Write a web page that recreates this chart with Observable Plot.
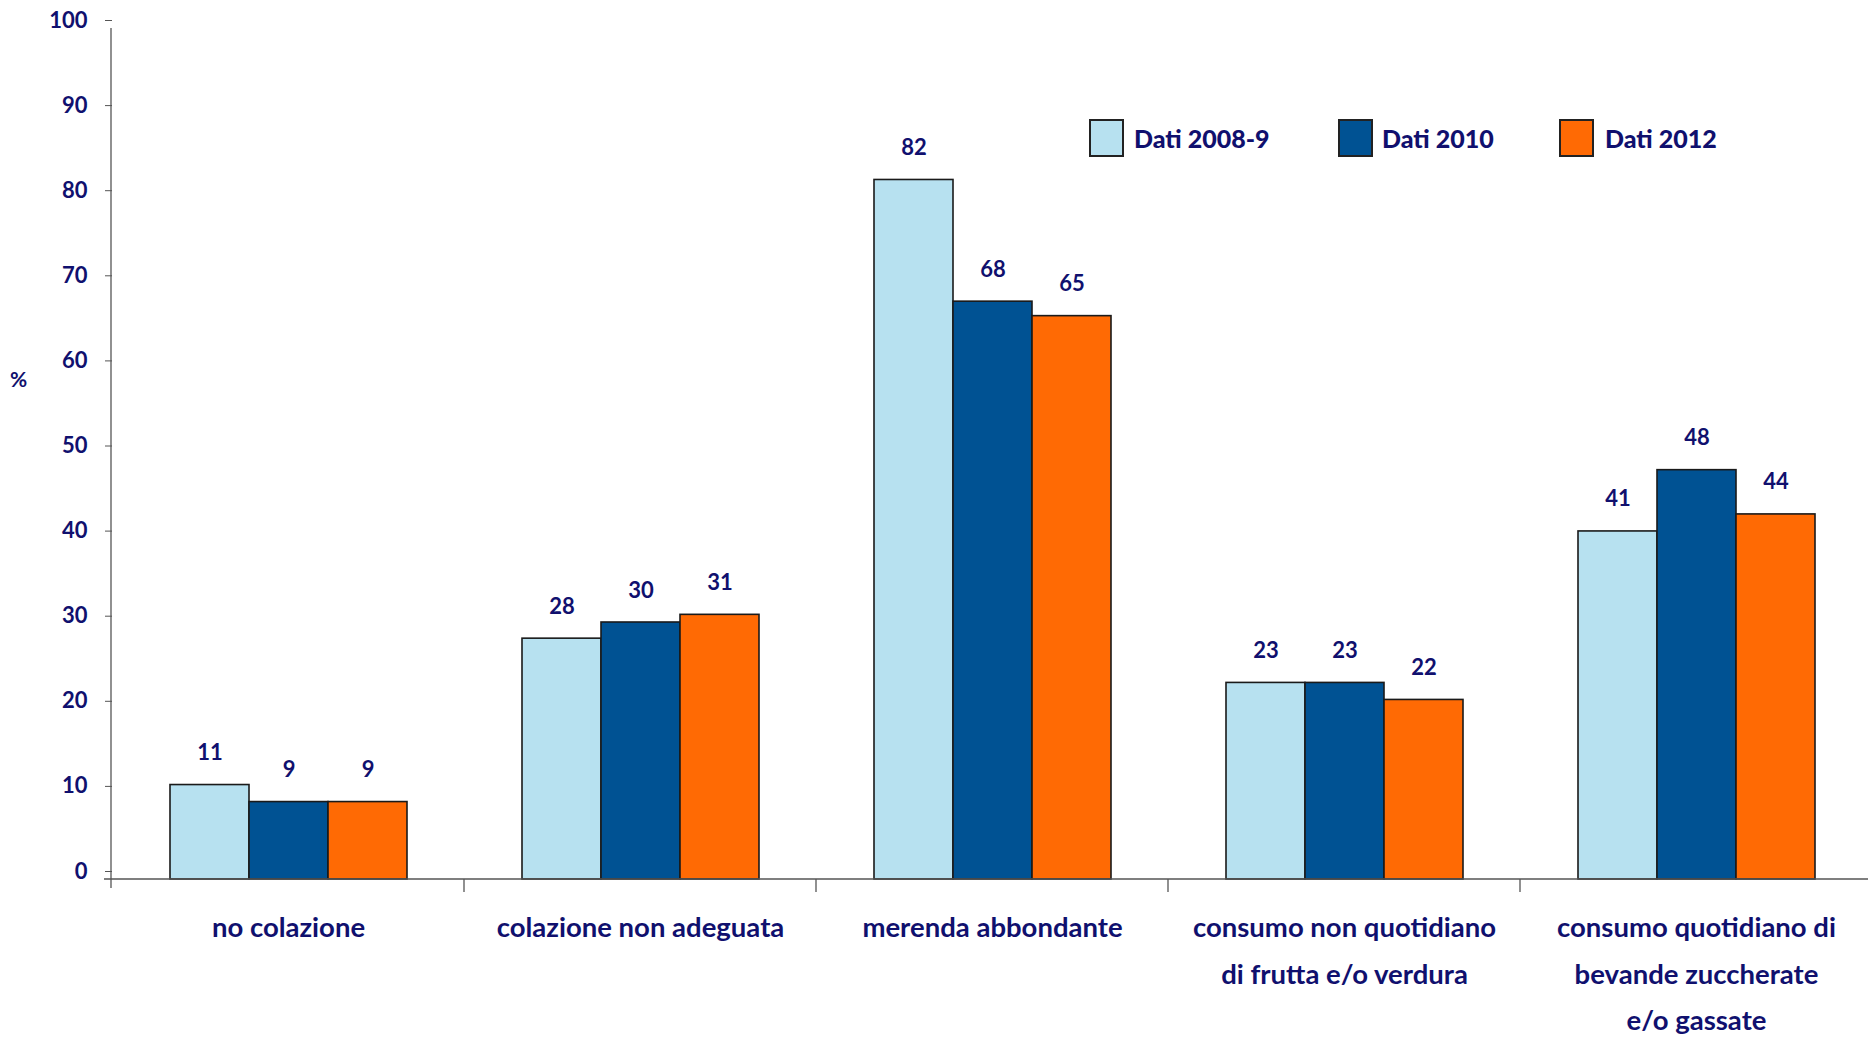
<!DOCTYPE html>
<html><head><meta charset="utf-8">
<script src="https://cdn.jsdelivr.net/npm/d3@7"></script>
<script src="https://cdn.jsdelivr.net/npm/@observablehq/plot@0.6"></script>
<style>
html,body{margin:0;padding:0;background:#fff;overflow:hidden}
#wrap{position:relative;width:1868px;height:1037px;overflow:hidden;font-family:Lato,"Open Sans",sans-serif;font-weight:700;color:#10106e}
#wrap svg{max-width:none !important}
.sw{position:absolute;box-sizing:border-box;border:2px solid #222;width:35px;height:38px}
.lt{position:absolute;font-size:25px;line-height:38px;white-space:nowrap;font-weight:900}
#pct{position:absolute;font-size:21px;left:10px;top:366px}
</style></head><body><div id="wrap"></div><script>
const categories = ["no colazione", "colazione non adeguata", "merenda abbondante", "consumo non quotidiano di frutta e/o verdura", "consumo quotidiano di bevande zuccherate e/o gassate"];
const categoryLabels = ["no colazione", "colazione non adeguata", "merenda abbondante", "consumo non quotidiano\ndi frutta e/o verdura", "consumo quotidiano di\nbevande zuccherate\ne/o gassate"];
const series = ["Dati 2008-9", "Dati 2010", "Dati 2012"];
const colors = ["#b7e1f0", "#005293", "#ff6a04"];
const values2008 = [11.1, 28.3, 82.2, 23.1, 40.9];
const values2010 = [9.1, 30.2, 67.9, 23.1, 48.1];
const values2012 = [9.1, 31.1, 66.2, 21.1, 42.9];
const labels2008 = ["11", "28", "82", "23", "41"];
const labels2010 = ["9", "30", "68", "23", "48"];
const labels2012 = ["9", "31", "65", "22", "44"];
const yTicks = [0, 10, 20, 30, 40, 50, 60, 70, 80, 90, 100];

const navy = "#10106e";
const seriesValues = [values2008, values2010, values2012];
const seriesLabels = [labels2008, labels2010, labels2012];
const rows = [];
categories.forEach((c, i) => series.forEach((s, j) => rows.push({cat: c, series: s, value: seriesValues[j][i], label: seriesLabels[j][i]})));
const labelOf = Object.fromEntries(categories.map((c, i) => [c, categoryLabels[i]]));

const W = 1873, H = 1037, ML = 111, MT = 28, MB = 158, MR = 0;
const plot = Plot.plot({
  width: W, height: H,
  marginLeft: ML, marginTop: MT, marginBottom: MB, marginRight: MR,
  style: {fontFamily: "Lato, 'Open Sans', sans-serif", fontWeight: 700, color: navy, background: "#fff", overflow: "visible", maxWidth: "none"},
  fx: {domain: categories, padding: 0, axis: null},
  x: {domain: series, paddingInner: 0, paddingOuter: 0.724, axis: null},
  y: {domain: [0, 100], axis: null},
  color: {domain: series, range: colors},
  marks: [
    Plot.axisY({ticks: yTicks, label: null, tickSize: 7, tickPadding: 18, fontSize: 22, dy: -8, stroke: "#555", fill: navy, tickFormat: d => String(d)}),
    Plot.barY(rows, {fx: "cat", x: "series", y: "value", fill: "series", stroke: "#1a1a1a", strokeWidth: 1.6, insetLeft: 0, insetRight: 0}),
    Plot.text(rows, {fx: "cat", x: "series", y: "value", text: "label", dy: -32, fontSize: 22, fontWeight: 700, fill: navy}),
    Plot.text(categories, {fx: d => d, y: d => 0, text: d => labelOf[d], lineAnchor: "top", dy: 25, lineHeight: 1.68, fontSize: 27.5, fontWeight: 700, fill: navy})
  ]
});
const wrap = document.getElementById("wrap");
wrap.appendChild(plot);

// axis lines and boundary ticks from the library's scales
const y = plot.scale("y"), fx = plot.scale("fx");
const svg = d3.select(plot.tagName.toLowerCase() === "svg" ? plot : plot.querySelector("svg"));
const y0 = y.apply(0), y100 = y.apply(100);
const g = svg.append("g").attr("stroke", "#555").attr("stroke-width", 1.3);
g.append("line").attr("x1", ML).attr("x2", ML).attr("y1", y100).attr("y2", y0 + 9);
g.append("line").attr("x1", ML - 7).attr("x2", W).attr("y1", y0).attr("y2", y0);
categories.slice(1).forEach(c => {
  const xb = fx.apply(c);
  g.append("line").attr("x1", xb).attr("x2", xb).attr("y1", y0).attr("y2", y0 + 13);
});

// legend
const legendPos = [[1089, 1134], [1338, 1382], [1559, 1605]];
series.forEach((s, j) => {
  const sw = document.createElement("div");
  sw.className = "sw"; sw.style.left = legendPos[j][0] + "px"; sw.style.top = "119px"; sw.style.background = colors[j];
  wrap.appendChild(sw);
  const t = document.createElement("div");
  t.className = "lt"; t.style.left = legendPos[j][1] + "px"; t.style.top = "119px"; t.textContent = s;
  wrap.appendChild(t);
});
const pct = document.createElement("div"); pct.id = "pct"; pct.textContent = "%"; wrap.appendChild(pct);
</script></body></html>
